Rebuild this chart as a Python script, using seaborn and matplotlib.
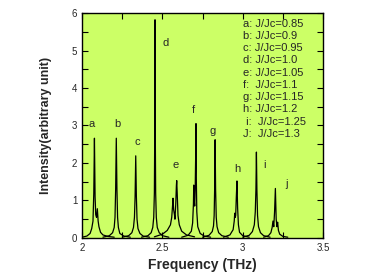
import matplotlib
matplotlib.use("Agg")
import matplotlib.pyplot as plt
import seaborn as sns
import pandas as pd
from matplotlib.ticker import MultipleLocator

sns.set_style("ticks")
plt.rcParams['font.family'] = ['Liberation Sans', 'DejaVu Sans']

# spectra (frequency THz, intensity)
a_x = [2.00, 2.03, 2.05, 2.06, 2.068, 2.073, 2.077, 2.081, 2.085, 2.09, 2.095, 2.10, 2.105, 2.115, 2.13, 2.16, 2.20]
a_y = [0.02, 0.05, 0.12, 0.25, 0.45, 1.2, 2.66, 1.1, 0.62, 0.55, 0.78, 0.45, 0.3, 0.15, 0.08, 0.04, 0.02]
b_x = [2.13, 2.17, 2.19, 2.20, 2.205, 2.209, 2.213, 2.217, 2.221, 2.226, 2.235, 2.26, 2.30]
b_y = [0.02, 0.06, 0.14, 0.28, 0.55, 1.3, 2.66, 1.3, 0.55, 0.28, 0.12, 0.05, 0.02]
c_x = [2.25, 2.29, 2.31, 2.32, 2.326, 2.330, 2.334, 2.338, 2.342, 2.348, 2.36, 2.38, 2.42]
c_y = [0.02, 0.06, 0.14, 0.28, 0.55, 1.1, 2.19, 1.1, 0.5, 0.25, 0.12, 0.05, 0.02]
d_x = [2.37, 2.41, 2.43, 2.44, 2.446, 2.450, 2.452, 2.454, 2.456, 2.458, 2.462, 2.468, 2.48, 2.50, 2.54]
d_y = [0.02, 0.06, 0.14, 0.28, 0.55, 1.2, 2.6, 5.82, 2.6, 1.2, 0.55, 0.28, 0.14, 0.06, 0.02]
e_x = [2.45, 2.50, 2.53, 2.55, 2.558, 2.563, 2.566, 2.570, 2.575, 2.578, 2.583, 2.587, 2.589, 2.592, 2.597, 2.605, 2.62, 2.65, 2.70]
e_y = [0.03, 0.1, 0.2, 0.35, 0.55, 0.85, 1.06, 0.75, 0.62, 0.5, 0.9, 1.4, 1.53, 1.2, 0.6, 0.35, 0.18, 0.08, 0.03]
f_x = [2.62, 2.66, 2.68, 2.688, 2.693, 2.695, 2.698, 2.701, 2.704, 2.707, 2.709, 2.711, 2.714, 2.72, 2.735, 2.76, 2.80]
f_y = [0.02, 0.07, 0.18, 0.4, 0.9, 1.41, 1.0, 0.85, 1.3, 2.2, 3.05, 1.6, 0.7, 0.3, 0.12, 0.05, 0.02]
g_x = [2.75, 2.79, 2.81, 2.818, 2.822, 2.825, 2.828, 2.831, 2.835, 2.84, 2.85, 2.87, 2.91]
g_y = [0.02, 0.07, 0.17, 0.32, 0.6, 1.3, 2.62, 1.3, 0.55, 0.3, 0.14, 0.06, 0.02]
h_x = [2.88, 2.92, 2.94, 2.947, 2.950, 2.953, 2.956, 2.960, 2.964, 2.968, 2.973, 2.98, 3.00, 3.04]
h_y = [0.02, 0.08, 0.22, 0.45, 0.66, 0.55, 0.6, 1.1, 1.52, 0.8, 0.35, 0.15, 0.06, 0.02]
i_x = [3.00, 3.04, 3.06, 3.072, 3.078, 3.082, 3.085, 3.088, 3.092, 3.098, 3.11, 3.13, 3.17]
i_y = [0.02, 0.07, 0.17, 0.35, 0.7, 1.3, 2.29, 1.3, 0.6, 0.3, 0.14, 0.06, 0.02]
j_x = [3.13, 3.16, 3.175, 3.183, 3.188, 3.193, 3.198, 3.203, 3.208, 3.213, 3.217, 3.222, 3.23, 3.25, 3.28]
j_y = [0.02, 0.06, 0.14, 0.28, 0.45, 0.3, 0.7, 1.32, 0.5, 0.3, 0.42, 0.2, 0.1, 0.04, 0.02]

series_names = ["a", "b", "c", "d", "e", "f", "g", "h", "i", "j"]
series_x = [a_x, b_x, c_x, d_x, e_x, f_x, g_x, h_x, i_x, j_x]
series_y = [a_y, b_y, c_y, d_y, e_y, f_y, g_y, h_y, i_y, j_y]

# peak label positions
label_text = ["a", "b", "c", "d", "e", "f", "g", "h", "i", "j"]
label_x = [2.06, 2.22, 2.345, 2.52, 2.58, 2.695, 2.815, 2.965, 3.135, 3.27]
label_y = [3.05, 3.05, 2.55, 5.2, 1.95, 3.4, 2.85, 1.85, 1.95, 1.45]

legend_lines = ["a: J/Jc=0.85", "b: J/Jc=0.9", "c: J/Jc=0.95", "d: J/Jc=1.0",
                "e: J/Jc=1.05", "f:  J/Jc=1.1", "g: J/Jc=1.15", "h: J/Jc=1.2",
                " i:  J/Jc=1.25", "J:  J/Jc=1.3"]

rows = []
for name, xs, ys in zip(series_names, series_x, series_y):
    for x, y in zip(xs, ys):
        rows.append({"freq": x, "inten": y, "s": name})
df = pd.DataFrame(rows)

fig = plt.figure(figsize=(3.68, 2.77), dpi=100)
ax = fig.add_axes([0.223, 0.141, 0.655, 0.812])
ax.set_facecolor("#CCFF66")

sns.lineplot(data=df, x="freq", y="inten", hue="s", units="s", estimator=None,
             sort=False, palette=["black"] * len(series_names), legend=False,
             linewidth=0.9, ax=ax)

for t, x, y in zip(label_text, label_x, label_y):
    ax.text(x, y, t, fontsize=8, ha="center", va="center")

for k, line in enumerate(legend_lines):
    ax.text(3.0, 5.72 - k * 0.327, line, fontsize=8, ha="left", va="center")

ax.set_xlim(2, 3.5)
ax.set_ylim(0, 6)
ax.xaxis.set_major_locator(MultipleLocator(0.5))
ax.xaxis.set_minor_locator(MultipleLocator(0.25))
ax.yaxis.set_major_locator(MultipleLocator(1))
ax.yaxis.set_minor_locator(MultipleLocator(0.5))
ax.tick_params(which="both", direction="in", top=True, right=True, labelsize=7,
               width=0.8, color="black")
ax.tick_params(which="major", length=4)
ax.tick_params(which="minor", length=4)
ax.set_xticks([2, 2.5, 3, 3.5])
ax.set_xticklabels(["2", "2.5", "3", "3.5"])
for sp in ax.spines.values():
    sp.set_linewidth(1.0)
    sp.set_color("black")

ax.set_xlabel("Frequency (THz)", fontsize=10, fontweight="bold", labelpad=4)
ax.set_ylabel("Intensity(arbitrary unit)", fontsize=9, fontweight="bold", labelpad=14)

fig.savefig("out.png", dpi=100)
